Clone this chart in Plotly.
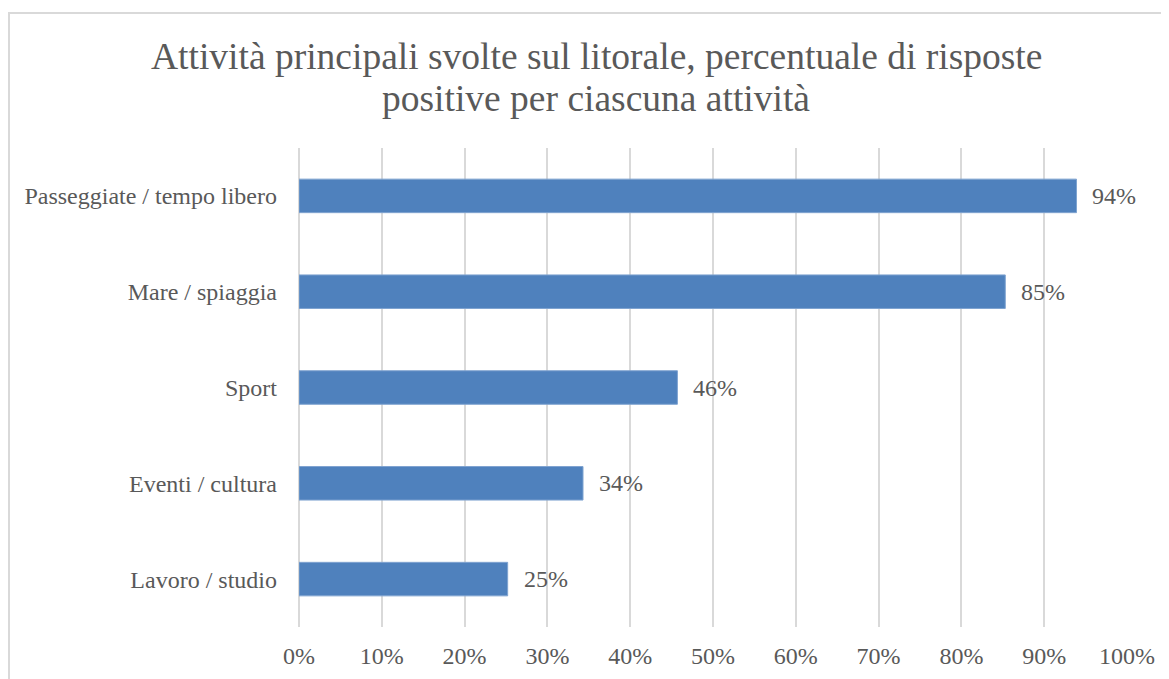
import plotly.graph_objects as go

# data
categories = ["Passeggiate / tempo libero", "Mare / spiaggia", "Sport",
              "Eventi / cultura", "Lavoro / studio"]
values = [93.9, 85.3, 45.7, 34.3, 25.2]
x_ticks = [0, 10, 20, 30, 40, 50, 60, 70, 80, 90, 100]
title_lines = ["Attività principali svolte sul litorale, percentuale di risposte",
               "positive per ciascuna attività"]

TEXT_GRAY = "#595959"
GRID_GRAY = "#d9d9d9"
BAR_BLUE = "#4f81bd"
FONT = "Liberation Serif, Times New Roman, serif"

# page is drawn with an 8px body margin, so plot box is shifted by that
L, T, R, B = 291, 140, 1119, 619
PW, PH = R - L, B - T

def px_x(x):
    return (x - 8 - L) / PW

def px_y(y):
    return 1 - (y - 8 - T) / PH

fig = go.Figure(go.Bar(
    x=values,
    y=categories,
    orientation="h",
    width=0.35,
    marker=dict(color=BAR_BLUE, line=dict(color="#7fa3d0", width=1)),
    hoverinfo="skip",
))

# data labels right of each bar
for cat, val in zip(categories, values):
    fig.add_annotation(
        x=val, y=cat, text=f"{val:.0f}%",
        xanchor="left", xshift=14, showarrow=False,
        font=dict(size=24, color=TEXT_GRAY, family=FONT),
    )

fig.update_layout(
    width=1169, height=679,
    paper_bgcolor="white", plot_bgcolor="white",
    margin=dict(l=L, r=1169 - R, t=T, b=679 - B),
    font=dict(family=FONT, color=TEXT_GRAY, size=24),
    showlegend=False,
    xaxis=dict(
        range=[0, 100], tickvals=x_ticks,
        ticktext=[f"{t}%" for t in x_ticks],
        showgrid=True, gridcolor=GRID_GRAY, gridwidth=1.5,
        zeroline=True, zerolinecolor=GRID_GRAY, zerolinewidth=1.5,
        showline=False, ticks="",
        ticklabelstandoff=12,
        tickfont=dict(size=24, color=TEXT_GRAY),
        fixedrange=True,
    ),
    yaxis=dict(
        categoryorder="array", categoryarray=categories[::-1],
        showgrid=False, zeroline=False, showline=False, ticks="",
        ticklabelstandoff=21,
        tickfont=dict(size=24, color=TEXT_GRAY),
        fixedrange=True,
    ),
)

# title, two centred lines
for line, yc in zip(title_lines, [57, 99]):
    fig.add_annotation(
        text=line, xref="paper", yref="paper",
        x=px_x(596), y=px_y(yc),
        xanchor="center", yanchor="middle", showarrow=False,
        font=dict(size=37.5, color=TEXT_GRAY, family=FONT),
    )

# chart border (extends past right/bottom edge like the reference)
fig.add_shape(
    type="rect", xref="paper", yref="paper",
    x0=px_x(9), x1=px_x(1200),
    y0=px_y(720), y1=px_y(13),
    line=dict(color=GRID_GRAY, width=2), layer="below",
)

fig.write_html("out.html")
